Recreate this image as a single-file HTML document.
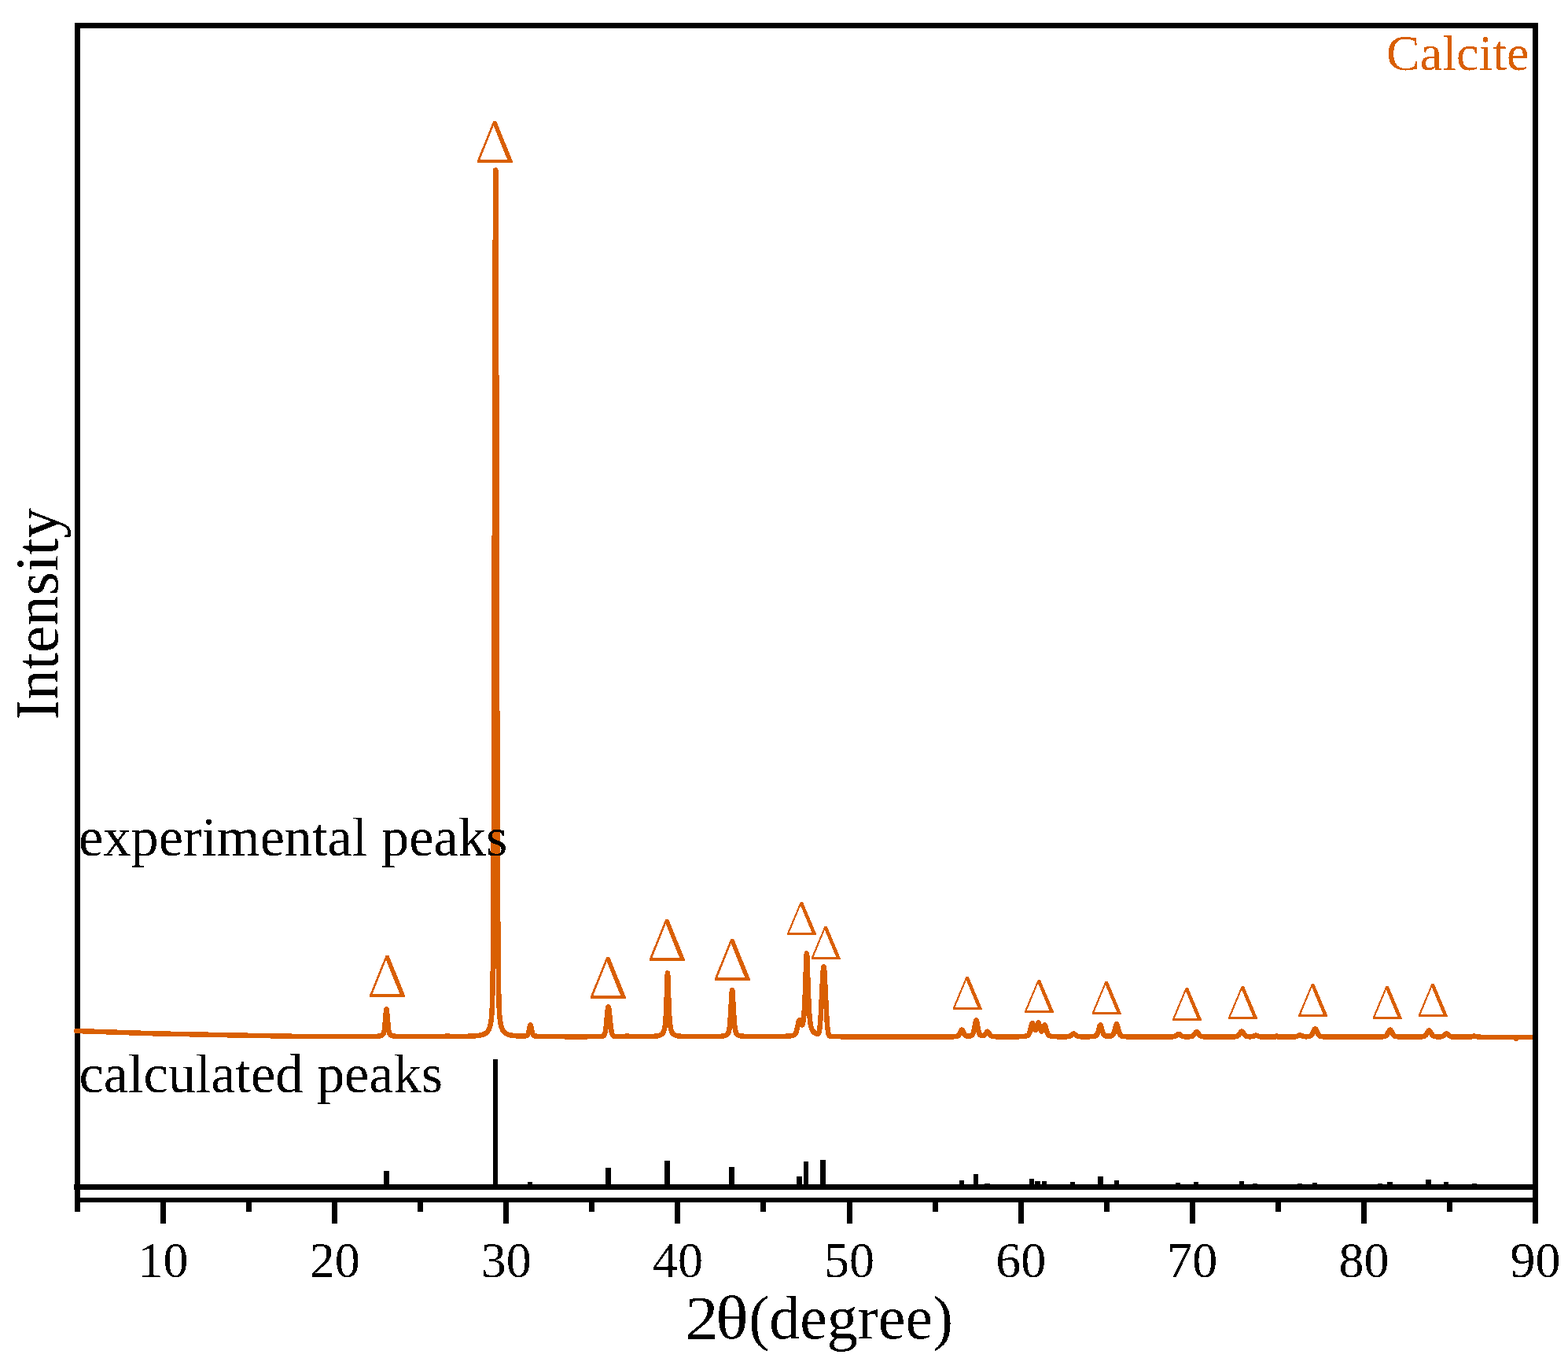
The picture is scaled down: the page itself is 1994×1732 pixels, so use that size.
<!DOCTYPE html>
<html><head><meta charset="utf-8"><style>
html,body{margin:0;padding:0;background:#fff;}
svg{display:block;}
text{font-family:"Liberation Serif","Times New Roman",serif;}
text.d{font-family:"Noto Serif CJK SC","Liberation Serif",serif;font-weight:300;}
</style></head><body>
<svg width="1994" height="1732" viewBox="0 0 1994 1732">
<defs><filter id="bin" x="0" y="0" width="1994" height="1732" filterUnits="userSpaceOnUse" color-interpolation-filters="sRGB"><feComponentTransfer><feFuncA type="discrete" tableValues="0 1"/></feComponentTransfer></filter></defs>
<rect width="1994" height="1732" fill="#fff"/>
<g fill="#000" shape-rendering="crispEdges">
<rect x="95" y="29" width="7" height="1512"/>
<rect x="94" y="1506" width="1862" height="7"/>
<rect x="95" y="1523" width="1861" height="6"/>
<rect x="204.06" y="1526" width="7" height="30"/><rect x="313.12" y="1526" width="7" height="15"/><rect x="422.18" y="1526" width="7" height="30"/><rect x="531.24" y="1526" width="7" height="15"/><rect x="640.29" y="1526" width="7" height="30"/><rect x="749.35" y="1526" width="7" height="15"/><rect x="858.41" y="1526" width="7" height="30"/><rect x="967.47" y="1526" width="7" height="15"/><rect x="1076.53" y="1526" width="7" height="30"/><rect x="1185.59" y="1526" width="7" height="15"/><rect x="1294.65" y="1526" width="7" height="30"/><rect x="1403.71" y="1526" width="7" height="15"/><rect x="1512.76" y="1526" width="7" height="30"/><rect x="1621.82" y="1526" width="7" height="15"/><rect x="1730.88" y="1526" width="7" height="30"/><rect x="1839.94" y="1526" width="7" height="15"/>
<rect x="488.35" y="1489.00" width="6.5" height="20.50"/><rect x="626.75" y="1347.10" width="6.5" height="162.40"/><rect x="670.75" y="1503.00" width="6.5" height="6.50"/><rect x="770.15" y="1484.90" width="6.5" height="24.60"/><rect x="845.25" y="1475.90" width="6.5" height="33.60"/><rect x="927.25" y="1483.80" width="6.5" height="25.70"/><rect x="1013.15" y="1495.90" width="6.5" height="13.60"/><rect x="1021.75" y="1477.00" width="6.5" height="32.50"/><rect x="1043.15" y="1475.00" width="6.5" height="34.50"/><rect x="1219.75" y="1501.00" width="6.5" height="8.50"/><rect x="1237.75" y="1493.00" width="6.5" height="16.50"/><rect x="1252.25" y="1504.80" width="6.5" height="4.70"/><rect x="1308.75" y="1499.00" width="6.5" height="10.50"/><rect x="1316.25" y="1502.00" width="6.5" height="7.50"/><rect x="1324.75" y="1502.00" width="6.5" height="7.50"/><rect x="1360.75" y="1503.00" width="6.5" height="6.50"/><rect x="1396.35" y="1496.00" width="6.5" height="13.50"/><rect x="1416.75" y="1501.00" width="6.5" height="8.50"/><rect x="1494.75" y="1503.80" width="6.5" height="5.70"/><rect x="1517.75" y="1502.90" width="6.5" height="6.60"/><rect x="1575.75" y="1502.10" width="6.5" height="7.40"/><rect x="1592.75" y="1505.00" width="6.5" height="4.50"/><rect x="1649.75" y="1505.00" width="6.5" height="4.50"/><rect x="1668.75" y="1503.90" width="6.5" height="5.60"/><rect x="1751.75" y="1505.00" width="6.5" height="4.50"/><rect x="1764.25" y="1503.00" width="6.5" height="6.50"/><rect x="1813.25" y="1500.00" width="6.5" height="9.50"/><rect x="1835.75" y="1503.00" width="6.5" height="6.50"/><rect x="1871.75" y="1505.00" width="6.5" height="4.50"/>
</g>
<polyline shape-rendering="crispEdges" fill="none" stroke="#D95F02" stroke-width="6.5" stroke-linejoin="round" stroke-linecap="round" points="97.25,1311.00 195.00,1314.29 295.00,1316.39 395.00,1318.18 462.00,1318.21 473.25,1318.11 479.50,1317.87 483.25,1317.40 485.50,1316.65 486.25,1316.17 487.00,1315.42 487.50,1314.61 488.00,1313.37 488.75,1310.06 489.25,1306.43 491.00,1285.83 491.25,1283.97 491.50,1283.31 491.75,1283.97 492.00,1285.83 493.75,1306.43 494.25,1310.06 494.75,1312.50 495.50,1314.61 496.50,1315.96 498.00,1316.87 500.00,1317.45 503.50,1317.87 509.25,1318.10 535.75,1318.25 563.75,1318.13 566.00,1317.91 568.90,1317.17 572.00,1317.91 575.00,1318.08 591.00,1317.91 602.50,1317.45 606.75,1317.09 610.25,1316.60 613.25,1315.93 615.50,1315.14 617.50,1314.06 619.00,1312.86 620.25,1311.44 621.50,1309.39 622.25,1307.70 623.00,1305.50 624.00,1301.31 625.00,1294.22 625.50,1287.80 626.00,1276.35 626.25,1267.10 626.75,1235.93 627.00,1210.83 627.50,1132.09 628.00,1003.56 629.50,381.92 630.00,238.81 630.27,216.38 630.50,232.72 631.00,366.76 632.25,903.56 632.75,1064.27 633.25,1170.49 633.75,1232.42 634.00,1251.58 634.50,1275.07 635.00,1287.12 635.50,1293.81 636.00,1298.05 636.50,1301.10 637.75,1306.17 638.50,1308.21 639.50,1310.23 640.75,1312.01 642.00,1313.27 643.75,1314.49 645.75,1315.41 648.25,1316.17 651.50,1316.77 656.25,1317.27 662.00,1317.54 666.50,1317.50 669.25,1317.14 670.00,1316.84 670.75,1316.22 671.25,1315.48 671.75,1314.32 672.50,1311.57 674.00,1304.20 674.25,1303.53 674.50,1303.30 674.75,1303.54 675.00,1304.22 676.50,1311.64 677.50,1315.06 678.00,1316.01 678.75,1316.82 679.75,1317.32 681.00,1317.60 685.00,1317.96 692.50,1318.15 732.50,1318.32 758.25,1318.21 763.75,1318.00 766.50,1317.65 767.25,1317.37 767.75,1317.03 768.50,1316.07 769.25,1314.12 769.75,1311.97 770.75,1304.99 772.75,1284.59 773.25,1281.37 773.50,1280.57 773.70,1280.37 774.00,1280.82 774.25,1281.86 774.75,1285.44 776.50,1303.62 777.50,1311.16 778.00,1313.56 778.50,1315.19 779.25,1316.60 780.00,1317.28 781.00,1317.67 782.25,1317.87 787.25,1318.15 793.50,1318.12 794.75,1317.94 797.40,1317.28 800.25,1318.00 802.25,1318.21 818.50,1318.21 826.75,1318.04 832.25,1317.76 836.25,1317.30 839.00,1316.61 840.50,1315.93 841.75,1315.04 842.75,1313.94 843.50,1312.73 844.25,1310.97 844.75,1309.32 845.25,1307.06 845.75,1303.87 846.50,1296.19 847.00,1287.98 847.50,1276.22 848.50,1244.90 848.75,1239.50 849.00,1237.53 849.25,1239.50 849.50,1244.90 850.50,1276.22 851.00,1287.98 851.50,1296.19 852.00,1301.78 852.75,1307.06 853.25,1309.32 854.00,1311.64 854.75,1313.18 855.75,1314.55 856.75,1315.45 858.00,1316.20 859.75,1316.85 862.00,1317.34 865.00,1317.70 868.75,1317.95 881.50,1318.23 901.75,1318.24 912.25,1318.05 918.25,1317.65 920.25,1317.35 922.00,1316.93 923.50,1316.32 924.50,1315.68 925.25,1314.95 925.75,1314.25 926.50,1312.58 927.25,1309.48 927.75,1306.08 928.75,1294.56 930.50,1263.62 930.75,1260.85 931.10,1259.33 931.25,1259.61 931.50,1261.30 931.75,1264.31 933.50,1295.30 934.50,1306.48 935.00,1309.75 935.75,1312.72 936.50,1314.33 937.00,1315.01 937.75,1315.72 938.75,1316.34 940.00,1316.86 943.25,1317.56 948.25,1317.98 956.00,1318.20 976.25,1318.26 993.50,1318.04 1002.75,1317.57 1005.75,1317.23 1008.25,1316.75 1009.75,1316.23 1010.75,1315.56 1011.50,1314.67 1012.25,1313.22 1013.00,1310.99 1013.50,1309.02 1015.50,1299.41 1016.25,1297.28 1016.50,1297.03 1016.75,1297.04 1017.25,1297.70 1019.00,1302.48 1019.50,1303.27 1019.75,1303.44 1020.00,1303.44 1020.25,1303.25 1020.75,1302.23 1021.50,1298.84 1022.00,1295.01 1022.50,1289.53 1023.25,1277.31 1024.00,1259.13 1025.25,1221.20 1025.50,1215.94 1025.75,1212.95 1025.90,1212.45 1026.25,1215.15 1026.50,1220.01 1028.00,1264.67 1029.00,1285.53 1029.50,1292.36 1030.25,1299.42 1031.00,1303.92 1031.75,1306.88 1032.75,1309.45 1034.00,1311.47 1035.75,1313.19 1038.00,1314.55 1039.25,1314.96 1039.75,1314.96 1040.25,1314.77 1041.00,1313.81 1041.75,1311.47 1042.25,1308.69 1042.75,1304.58 1043.50,1295.38 1044.25,1282.35 1046.25,1240.54 1047.00,1231.17 1047.25,1229.76 1047.50,1229.31 1047.75,1229.83 1048.00,1231.31 1048.75,1240.87 1051.00,1288.09 1051.75,1300.12 1052.25,1306.00 1053.00,1311.93 1053.50,1314.36 1054.00,1315.92 1054.50,1316.87 1055.00,1317.43 1055.75,1317.85 1056.75,1318.04 1075.25,1318.37 1119.00,1318.51 1193.25,1318.52 1206.25,1318.44 1213.00,1318.25 1216.75,1317.86 1217.75,1317.54 1218.75,1316.90 1219.50,1316.09 1220.25,1314.89 1222.50,1310.07 1222.75,1309.75 1223.20,1309.50 1223.50,1309.60 1224.00,1310.20 1226.25,1314.95 1227.00,1316.06 1227.75,1316.79 1228.75,1317.33 1229.75,1317.56 1231.25,1317.65 1233.00,1317.55 1234.50,1317.27 1235.75,1316.72 1236.75,1315.72 1237.50,1314.27 1238.25,1311.92 1238.75,1309.75 1240.75,1298.84 1241.00,1298.03 1241.40,1297.50 1241.75,1297.90 1242.25,1299.70 1243.75,1308.20 1244.75,1312.62 1245.75,1315.18 1246.75,1316.43 1247.75,1316.98 1249.00,1317.25 1250.25,1317.22 1251.25,1316.91 1252.50,1315.93 1255.00,1312.20 1255.50,1311.77 1255.80,1311.70 1256.25,1311.89 1256.75,1312.46 1259.00,1316.07 1259.75,1316.87 1260.50,1317.40 1261.50,1317.80 1262.75,1318.04 1267.25,1318.32 1280.75,1318.45 1295.25,1318.31 1302.00,1317.97 1304.25,1317.68 1305.75,1317.32 1306.75,1316.89 1307.75,1316.07 1308.50,1314.98 1309.00,1313.93 1310.00,1310.86 1311.75,1303.40 1312.50,1301.27 1312.75,1301.02 1313.00,1301.04 1313.50,1301.85 1315.50,1308.54 1316.00,1309.53 1316.50,1309.95 1317.00,1309.74 1317.50,1308.92 1318.25,1306.74 1319.50,1302.13 1320.00,1300.91 1320.40,1300.60 1320.75,1300.89 1321.25,1302.10 1323.25,1309.55 1323.75,1310.73 1324.25,1311.40 1324.75,1311.52 1325.00,1311.38 1325.50,1310.72 1326.25,1308.91 1327.75,1304.34 1328.25,1303.57 1328.50,1303.50 1329.00,1304.06 1329.50,1305.39 1331.00,1310.93 1331.75,1313.25 1332.50,1314.94 1333.50,1316.34 1334.75,1317.19 1336.50,1317.68 1339.50,1318.04 1344.25,1318.27 1354.00,1318.34 1357.00,1318.25 1358.75,1318.07 1360.00,1317.76 1361.00,1317.32 1362.00,1316.66 1364.25,1314.82 1365.20,1314.50 1365.75,1314.61 1366.25,1314.88 1368.25,1316.55 1369.50,1317.38 1370.75,1317.88 1372.25,1318.17 1376.75,1318.37 1384.75,1318.33 1389.50,1318.10 1392.25,1317.68 1393.25,1317.33 1394.25,1316.63 1395.00,1315.68 1395.50,1314.76 1396.50,1312.06 1398.50,1304.72 1399.00,1303.68 1399.30,1303.50 1399.75,1303.90 1400.25,1305.15 1402.00,1311.67 1402.75,1313.88 1403.50,1315.43 1404.25,1316.42 1405.50,1317.26 1407.25,1317.66 1410.25,1317.78 1412.75,1317.52 1413.75,1317.21 1414.75,1316.58 1415.50,1315.71 1416.00,1314.83 1416.75,1312.97 1417.25,1311.33 1419.25,1303.45 1419.75,1302.43 1420.00,1302.30 1420.25,1302.44 1420.50,1302.84 1421.00,1304.28 1422.50,1310.45 1423.25,1313.04 1424.00,1314.93 1425.00,1316.46 1426.25,1317.37 1427.75,1317.83 1430.50,1318.18 1435.00,1318.41 1445.50,1318.58 1466.00,1318.64 1483.00,1318.60 1490.50,1318.45 1492.75,1318.21 1494.25,1317.78 1495.50,1317.11 1498.00,1315.26 1498.90,1315.00 1499.50,1315.12 1500.00,1315.37 1502.75,1317.35 1504.50,1318.04 1507.50,1318.36 1513.00,1318.28 1515.25,1317.95 1516.25,1317.59 1517.00,1317.15 1518.25,1316.01 1520.75,1312.80 1521.25,1312.42 1521.70,1312.30 1522.25,1312.48 1522.75,1312.91 1525.00,1315.86 1526.25,1317.07 1527.75,1317.87 1529.50,1318.25 1534.00,1318.51 1543.00,1318.63 1559.75,1318.62 1568.50,1318.44 1572.00,1318.10 1573.00,1317.81 1574.00,1317.32 1575.50,1315.94 1578.25,1312.06 1578.75,1311.68 1579.10,1311.60 1579.50,1311.70 1580.00,1312.11 1582.50,1315.68 1583.75,1316.97 1584.50,1317.46 1585.50,1317.88 1587.75,1318.25 1590.25,1318.31 1592.25,1318.15 1593.75,1317.78 1596.25,1316.78 1597.30,1316.60 1598.25,1316.77 1601.75,1318.13 1603.25,1318.41 1605.25,1318.55 1620.75,1318.63 1622.00,1318.43 1623.60,1317.50 1625.25,1318.45 1626.50,1318.63 1644.00,1318.58 1646.50,1318.45 1648.25,1318.17 1649.75,1317.66 1652.00,1316.55 1653.10,1316.30 1654.00,1316.46 1656.50,1317.59 1658.00,1318.05 1659.75,1318.26 1662.00,1318.25 1664.00,1318.09 1665.50,1317.77 1666.50,1317.34 1667.50,1316.58 1668.25,1315.69 1669.00,1314.49 1671.50,1309.21 1672.00,1308.54 1672.50,1308.30 1673.00,1308.54 1673.50,1309.21 1675.50,1313.53 1676.50,1315.35 1677.25,1316.35 1678.00,1317.05 1679.00,1317.64 1680.50,1318.08 1682.50,1318.33 1685.75,1318.51 1701.00,1318.72 1739.00,1318.74 1752.75,1318.62 1759.00,1318.30 1761.25,1317.82 1762.25,1317.31 1763.00,1316.70 1763.75,1315.84 1764.50,1314.68 1766.75,1310.39 1767.25,1309.76 1767.80,1309.50 1768.25,1309.67 1768.75,1310.24 1771.25,1314.94 1772.00,1316.03 1773.00,1317.06 1774.00,1317.67 1775.25,1318.08 1779.00,1318.48 1787.25,1318.67 1800.00,1318.66 1806.75,1318.48 1810.00,1318.14 1811.75,1317.52 1813.00,1316.54 1814.25,1314.89 1816.25,1311.43 1816.75,1310.82 1817.40,1310.50 1818.00,1310.77 1818.50,1311.36 1820.75,1315.18 1821.50,1316.19 1822.25,1316.94 1823.00,1317.46 1824.00,1317.89 1825.25,1318.17 1826.75,1318.32 1831.25,1318.38 1832.75,1318.26 1834.00,1317.99 1835.50,1317.30 1838.50,1314.77 1839.00,1314.50 1839.50,1314.40 1840.00,1314.50 1840.50,1314.79 1843.00,1317.01 1844.50,1317.89 1846.25,1318.37 1849.25,1318.61 1858.50,1318.76 1868.00,1318.70 1870.50,1318.46 1873.75,1317.70 1874.70,1317.60 1875.75,1317.72 1879.25,1318.53 1882.50,1318.76 1925.00,1318.92 1926.25,1319.03 1926.75,1319.28 1927.80,1321.08 1928.00,1320.88 1928.75,1319.38 1929.25,1319.06 1929.75,1318.97 1953.00,1318.89"/>
<g fill="#000">
<rect x="95" y="29" width="1861" height="7"/>
<rect x="1949" y="29" width="7" height="1527"/>
</g>
<g fill="#D95F02" filter="url(#bin)">
<text x="1763.1" y="89.1" font-size="64">Calcite</text>
<text class="d" transform="translate(466.47,1267.80) scale(1.0651,1)" font-size="72">&#916;</text><text class="d" transform="translate(603.27,206.80) scale(1.0651,1)" font-size="72">&#916;</text><text class="d" transform="translate(747.27,1269.80) scale(1.0651,1)" font-size="72">&#916;</text><text class="d" transform="translate(822.27,1221.80) scale(1.0651,1)" font-size="72">&#916;</text><text class="d" transform="translate(905.27,1247.00) scale(1.0651,1)" font-size="72">&#916;</text><text class="d" transform="translate(997.93,1188.60) scale(1.0985,1)" font-size="57.4">&#916;</text><text class="d" transform="translate(1028.83,1219.90) scale(1.0985,1)" font-size="57.4">&#916;</text><text class="d" transform="translate(1208.83,1283.90) scale(1.0985,1)" font-size="57.4">&#916;</text><text class="d" transform="translate(1299.93,1287.90) scale(1.0985,1)" font-size="57.4">&#916;</text><text class="d" transform="translate(1385.83,1289.90) scale(1.0985,1)" font-size="57.4">&#916;</text><text class="d" transform="translate(1488.03,1297.90) scale(1.0985,1)" font-size="57.4">&#916;</text><text class="d" transform="translate(1558.93,1295.80) scale(1.0985,1)" font-size="57.4">&#916;</text><text class="d" transform="translate(1648.13,1292.90) scale(1.0985,1)" font-size="57.4">&#916;</text><text class="d" transform="translate(1742.83,1295.80) scale(1.0985,1)" font-size="57.4">&#916;</text><text class="d" transform="translate(1800.83,1292.80) scale(1.0985,1)" font-size="57.4">&#916;</text>
</g>
<g fill="#000" filter="url(#bin)">
<text x="100" y="1088" font-size="70.4">experimental peaks</text>
<text x="100.5" y="1389" font-size="70.3">calculated peaks</text>
<g font-size="64"><text x="207.56" y="1623.5" text-anchor="middle">10</text><text x="425.68" y="1623.5" text-anchor="middle">20</text><text x="643.79" y="1623.5" text-anchor="middle">30</text><text x="861.91" y="1623.5" text-anchor="middle">40</text><text x="1080.03" y="1623.5" text-anchor="middle">50</text><text x="1298.15" y="1623.5" text-anchor="middle">60</text><text x="1516.26" y="1623.5" text-anchor="middle">70</text><text x="1734.38" y="1623.5" text-anchor="middle">80</text><text x="1952.50" y="1623.5" text-anchor="middle">90</text></g>
<text transform="translate(871.08,1701.6) scale(1.091,1)" font-size="78">2</text><text transform="translate(910.0,1701.6) scale(1.117,1)" font-size="78">θ</text><text x="952.2" y="1701.6" font-size="78">(degree)</text>
<text transform="translate(73.7,915.5) rotate(-90) scale(1,1.02)" font-size="77">Intensity</text>
</g>
</svg>
</body></html>
